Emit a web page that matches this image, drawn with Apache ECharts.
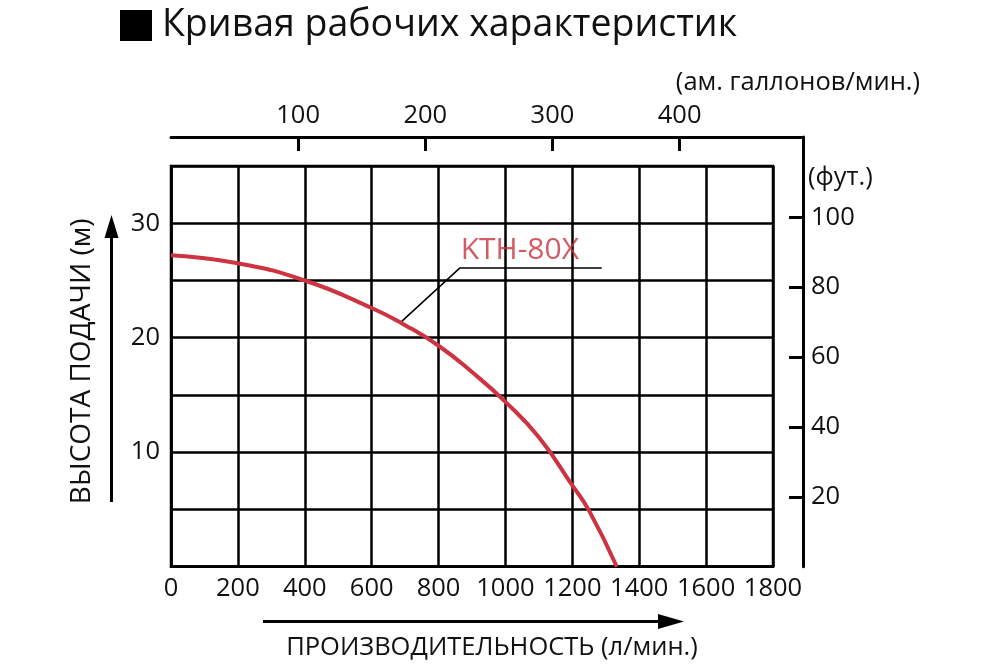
<!DOCTYPE html>
<html>
<head>
<meta charset="utf-8">
<script src="https://cdn.jsdelivr.net/npm/echarts@6/dist/echarts.min.js"></script>
<style>
html,body{margin:0;padding:0;background:#fff;}
#chart{width:1000px;height:667px;}
</style>
</head>
<body>
<div id="chart"></div>
<script>
// Flow (l/min) and head (m) of the KTH-80X curve
var flow = [0, 200, 400, 600, 700, 800, 900, 1000, 1100, 1200, 1250, 1333];
var head = [27.2, 26.5, 25.0, 22.6, 21.1, 19.3, 17.0, 14.4, 11.3, 7.1, 4.9, 0];
// Leader line for the model label (flow, head)
var leaderFlow = [685, 864, 1288];
var leaderHead = [21.3, 26.1, 26.1];
var modelName = 'KTH-80X';
var modelPos = [1043, 27.6];
// Axis tick values
var xTicks = [0, 200, 400, 600, 800, 1000, 1200, 1400, 1600, 1800];
var yLabels = [10, 20, 30];
var gallonTicks = [100, 200, 300, 400];
var feetTicks = [20, 40, 60, 80, 100];

var FONT = 'Open Sans';
var TICK = 25.5;
var chart = echarts.init(document.getElementById('chart'));

function pairs(a, b) { return a.map(function (v, i) { return [v, b[i]]; }); }
function plain(v) { return String(v); }

var option = {
  backgroundColor: '#fff',
  animation: false,
  textStyle: { fontFamily: FONT },
  grid: [
    { left: 171, right: 227, top: 166, bottom: 100.3, show: true, borderColor: '#000', borderWidth: 2.5 },
    { left: 171, right: 197, top: 137, bottom: 100.3, show: false }
  ],
  xAxis: [
    {
      gridIndex: 0, type: 'value', min: 0, max: 1800, interval: 200, position: 'bottom',
      axisLine: { show: true, lineStyle: { color: '#000', width: 2.5 } },
      axisTick: { show: false },
      axisLabel: { color: '#111', fontSize: TICK, fontFamily: FONT, margin: 9, formatter: plain },
      splitLine: { show: true, lineStyle: { color: '#000', width: 2.5 } },
      name: 'ПРОИЗВОДИТЕЛЬНОСТЬ (л/мин.)', nameLocation: 'middle', nameGap: 68,
      nameTextStyle: { color: '#111', fontSize: 25.5, fontFamily: FONT, padding: [0, 0, 0, 40] }
    },
    {
      gridIndex: 1, type: 'value', min: 0, max: 497, position: 'top',
      axisLine: { show: true, onZero: false, lineStyle: { color: '#000', width: 3 } },
      axisTick: { show: true, inside: true, length: 14, customValues: gallonTicks, lineStyle: { color: '#000', width: 3 } },
      axisLabel: { color: '#111', fontSize: TICK, fontFamily: FONT, margin: 8, customValues: gallonTicks, formatter: plain },
      splitLine: { show: false }
    }
  ],
  yAxis: [
    {
      gridIndex: 0, type: 'value', min: 0, max: 35, interval: 5, position: 'left',
      axisLine: { show: true, lineStyle: { color: '#000', width: 2.5 } },
      axisTick: { show: false },
      axisLabel: { color: '#111', fontSize: TICK, fontFamily: FONT, margin: 11, customValues: yLabels, formatter: plain },
      splitLine: { show: true, lineStyle: { color: '#000', width: 2.5 } },
      name: 'ВЫСОТА ПОДАЧИ (м)', nameLocation: 'middle', nameGap: 75, nameRotate: 90,
      nameTextStyle: { color: '#111', fontSize: 28, fontFamily: FONT, padding: [0, 0, 0, 10] }
    },
    {
      gridIndex: 1, type: 'value', min: 0, max: 123, position: 'right',
      axisLine: { show: true, onZero: false, lineStyle: { color: '#000', width: 3 } },
      axisTick: { show: true, inside: true, length: 14, customValues: feetTicks, lineStyle: { color: '#000', width: 3 } },
      axisLabel: { color: '#111', fontSize: TICK, fontFamily: FONT, margin: 8, customValues: feetTicks, formatter: plain },
      splitLine: { show: false }
    }
  ],
  graphic: [
    { type: 'rect', shape: { x: 120, y: 10, width: 32, height: 31 }, style: { fill: '#000' } },
    { type: 'text', x: 162, y: 25, style: { text: 'Кривая рабочих характеристик', fill: '#111', font: '37.5px "Open Sans"', textVerticalAlign: 'middle', textAlign: 'left' } },
    { type: 'text', x: 920, y: 83, style: { text: '(ам. галлонов/мин.)', fill: '#111', font: '25.5px "Open Sans"', textVerticalAlign: 'middle', textAlign: 'right' } },
    { type: 'text', x: 808, y: 178, style: { text: '(фут.)', fill: '#111', font: '25.5px "Open Sans"', textVerticalAlign: 'middle', textAlign: 'left' } },
    { type: 'line', shape: { x1: 111.5, y1: 502, x2: 111.5, y2: 232 }, style: { stroke: '#000', lineWidth: 3 } },
    { type: 'polygon', shape: { points: [[111.5, 215], [104.5, 238], [118.5, 238]] }, style: { fill: '#000' } },
    { type: 'line', shape: { x1: 263, y1: 621.5, x2: 662, y2: 621.5 }, style: { stroke: '#000', lineWidth: 3 } },
    { type: 'polygon', shape: { points: [[684, 621.5], [658, 614], [658, 629]] }, style: { fill: '#000' } }
  ],
  series: [
    {
      type: 'line', xAxisIndex: 0, yAxisIndex: 0, data: pairs(flow, head),
      smooth: 0.5, showSymbol: false, symbol: 'none',
      lineStyle: { color: '#cd3340', width: 4 }, z: 5
    },
    {
      type: 'line', xAxisIndex: 0, yAxisIndex: 0, data: pairs(leaderFlow, leaderHead),
      showSymbol: false, symbol: 'none',
      lineStyle: { color: '#000', width: 1.5 }, z: 4
    },
    {
      type: 'scatter', xAxisIndex: 0, yAxisIndex: 0, data: [modelPos], symbolSize: 0,
      label: { show: true, formatter: modelName, position: 'inside', color: '#c8323c', fontSize: 30, fontFamily: FONT },
      z: 6
    }
  ]
};
chart.setOption(option);
</script>
</body>
</html>
